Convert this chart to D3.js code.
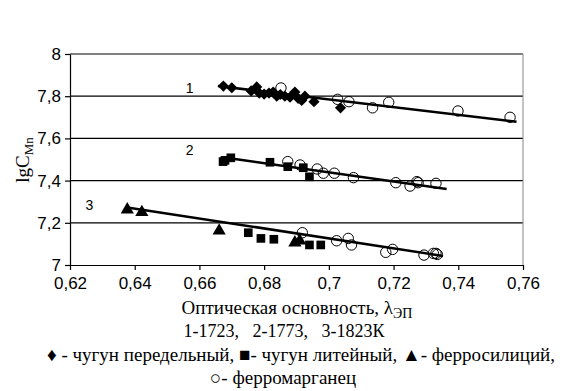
<!DOCTYPE html>
<html>
<head>
<meta charset="utf-8">
<script src="https://cdn.jsdelivr.net/npm/d3@7"></script>
<style>
  body { margin: 0; background: #fff; }
  text { fill: #000; }
</style>
</head>
<body>
<svg id="chart" width="566" height="391"></svg>
<script>
'use strict';

// chugun peredelny (diamonds), line 1
var diamonds = [
  [0.6674, 7.848], [0.6700, 7.840], [0.6777, 7.844], [0.6760, 7.825], [0.6785, 7.815],
  [0.6800, 7.810], [0.6815, 7.815], [0.6828, 7.820], [0.6839, 7.800], [0.6850, 7.808],
  [0.6864, 7.800], [0.6880, 7.795], [0.6895, 7.820], [0.6905, 7.790], [0.6916, 7.780],
  [0.6926, 7.800], [0.6954, 7.774], [0.7036, 7.745]
];
// chugun liteyny (squares), lines 2 and 3
var squares = [
  [0.6673, 7.490], [0.6679, 7.496], [0.6697, 7.508], [0.6818, 7.487], [0.6873, 7.466],
  [0.6921, 7.461], [0.6940, 7.418],
  [0.6751, 7.153], [0.6790, 7.126], [0.6830, 7.122], [0.6940, 7.095], [0.6975, 7.095]
];
// ferrosilicy (triangles), line 3
var triangles = [
  [0.6377, 7.262], [0.6422, 7.250], [0.6661, 7.162], [0.6895, 7.106], [0.6910, 7.115]
];
// ferromarganec (open circles)
var circles = [
  [0.6852, 7.839], [0.7027, 7.785], [0.7062, 7.774], [0.7135, 7.745], [0.7185, 7.771],
  [0.7399, 7.730], [0.7560, 7.700],
  [0.6873, 7.490], [0.6911, 7.474], [0.6964, 7.455], [0.6983, 7.435], [0.7017, 7.435],
  [0.7076, 7.414], [0.7207, 7.390], [0.7251, 7.374], [0.7272, 7.395], [0.7276, 7.390],
  [0.7331, 7.387],
  [0.6918, 7.153], [0.7024, 7.115], [0.7060, 7.126], [0.7070, 7.095], [0.7176, 7.060],
  [0.7197, 7.074], [0.7294, 7.047], [0.7323, 7.055], [0.7331, 7.055], [0.7335, 7.050]
];
// trend lines (start, end)
var trendLines = [
  [[0.6657, 7.848], [0.7580, 7.679]],
  [[0.6709, 7.502], [0.7364, 7.360]],
  [[0.6377, 7.273], [0.7353, 7.043]]
];
var lineLabels = [["1", 0.657, 7.817], ["2", 0.657, 7.52], ["3", 0.626, 7.262]];

var xTicks = [0.62, 0.64, 0.66, 0.68, 0.70, 0.72, 0.74, 0.76];
var yTicks = [7, 7.2, 7.4, 7.6, 7.8, 8];

var svg = d3.select('#chart');
var x = d3.scaleLinear().domain([0.62, 0.76]).range([70, 523]);
var y = d3.scaleLinear().domain([7, 8]).range([265, 54]);
var fmt = function (d) { return String(+d.toFixed(2)).replace('.', ','); };

// gridlines
svg.append('g').selectAll('line').data(yTicks.slice(1)).enter().append('line')
  .attr('x1', x(0.62)).attr('x2', x(0.76))
  .attr('y1', function (d) { return y(d); }).attr('y2', function (d) { return y(d); })
  .attr('stroke', '#000').attr('stroke-width', 1.2);
// right border
svg.append('line').attr('x1', x(0.76)).attr('x2', x(0.76)).attr('y1', y(8)).attr('y2', y(7))
  .attr('stroke', '#888').attr('stroke-width', 1);

var xAxis = svg.append('g').attr('transform', 'translate(0,' + y(7) + ')')
  .call(d3.axisBottom(x).tickValues(xTicks).tickFormat(fmt).tickSize(5).tickSizeOuter(0));
var yAxis = svg.append('g').attr('transform', 'translate(' + x(0.62) + ',0)')
  .call(d3.axisLeft(y).tickValues(yTicks).tickFormat(fmt).tickSize(5).tickSizeOuter(0));
[xAxis, yAxis].forEach(function (a) {
  a.selectAll('path, line').attr('stroke', '#000').attr('stroke-width', 1.2);
  a.selectAll('text').attr('font-family', 'Liberation Sans, Arial, sans-serif')
    .attr('font-size', 17).attr('fill', '#222');
});
xAxis.selectAll('text').attr('dy', '0.95em');
yAxis.selectAll('text').attr('dx', '-1px');

// trend lines
svg.append('g').selectAll('line').data(trendLines).enter().append('line')
  .attr('x1', function (d) { return x(d[0][0]); }).attr('y1', function (d) { return y(d[0][1]); })
  .attr('x2', function (d) { return x(d[1][0]); }).attr('y2', function (d) { return y(d[1][1]); })
  .attr('stroke', '#000').attr('stroke-width', 2.5);

function drawMarks(data, type, size, open) {
  svg.append('g').selectAll('path').data(data).enter().append('path')
    .attr('d', d3.symbol().type(type).size(size))
    .attr('transform', function (d) { return 'translate(' + x(d[0]) + ',' + y(d[1]) + ')'; })
    .attr('fill', open ? 'none' : '#000')
    .attr('stroke', open ? '#000' : 'none')
    .attr('stroke-width', 1);
}
drawMarks(circles, d3.symbolCircle, 85, true);
drawMarks(diamonds, d3.symbolDiamond2, 80, false);
drawMarks(squares, d3.symbolSquare, 75, false);
drawMarks(triangles, d3.symbolTriangle, 75, false);

svg.append('g').selectAll('text').data(lineLabels).enter().append('text')
  .attr('x', function (d) { return x(d[1]); }).attr('y', function (d) { return y(d[2]); })
  .attr('text-anchor', 'middle').attr('font-family', 'Liberation Sans, Arial, sans-serif')
  .attr('font-size', 14).text(function (d) { return d[0]; });

// y title
var serif = 'Liberation Serif, Times New Roman, serif';
var yt = svg.append('text').attr('transform', 'translate(29,160) rotate(-90)')
  .attr('text-anchor', 'middle').attr('font-family', serif).attr('font-size', 19);
yt.append('tspan').text('lgC');
yt.append('tspan').attr('font-size', 13).attr('dy', 4).text('Mn');

// x title
var xt = svg.append('text').attr('x', 297).attr('y', 314).attr('text-anchor', 'middle')
  .attr('font-family', serif).attr('font-size', 19);
xt.append('tspan').text('Оптическая основность, λ');
xt.append('tspan').attr('font-size', 14).attr('dy', 4).text('ЭП');

svg.append('text').attr('x', 284).attr('y', 337).attr('text-anchor', 'middle')
  .attr('font-family', serif).attr('font-size', 18).attr('xml:space', 'preserve')
  .text('1-1723,   2-1773,   3-1823К');
svg.append('text').attr('x', 301).attr('y', 361).attr('text-anchor', 'middle')
  .attr('font-family', serif).attr('font-size', 19)
  .text('♦ - чугун передельный, ■- чугун литейный, ▲- ферросилиций,');
svg.append('text').attr('x', 283).attr('y', 384).attr('text-anchor', 'middle')
  .attr('font-family', serif).attr('font-size', 19)
  .text('○- ферромарганец');
</script>
</body>
</html>
